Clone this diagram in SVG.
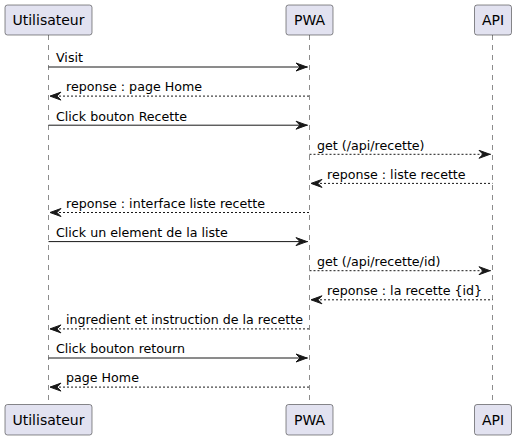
<svg xmlns="http://www.w3.org/2000/svg" width="516" height="440" viewBox="0 0 516 440">
<style>
.box{fill:#E2E2F0;stroke:#181818;stroke-width:0.5}
.pt{font-family:"DejaVu Sans",sans-serif;font-size:14px;fill:#000}
.life{stroke:#181818;stroke-width:0.5;stroke-dasharray:5,5}
.msg{stroke:#181818;stroke-width:1;fill:none}
.dash{stroke-dasharray:2,2}
.ah{fill:#181818;stroke:#181818;stroke-width:1}
.mt{font-family:"DejaVu Sans",sans-serif;font-size:12.65px;fill:#000}
</style>
<g id="lifelines">
<line class="life" x1="48.5" y1="35" x2="48.5" y2="404"/>
<line class="life" x1="309.5" y1="35" x2="309.5" y2="404"/>
<line class="life" x1="492.5" y1="35" x2="492.5" y2="404"/>
</g>
<g id="Utilisateur">
<rect class="box" x="5" y="5" width="87" height="30" rx="2.5"/>
<text class="pt" x="48.5" y="25" text-anchor="middle">Utilisateur</text>
<rect class="box" x="5" y="404.5" width="87" height="30.5" rx="2.5"/>
<text class="pt" x="48.5" y="424.5" text-anchor="middle">Utilisateur</text>
</g>
<g id="PWA">
<rect class="box" x="286" y="5" width="47" height="30" rx="2.5"/>
<text class="pt" x="309.5" y="25" text-anchor="middle">PWA</text>
<rect class="box" x="286" y="404.5" width="47" height="30.5" rx="2.5"/>
<text class="pt" x="309.5" y="424.5" text-anchor="middle">PWA</text>
</g>
<g id="API">
<rect class="box" x="474.5" y="5" width="37" height="30" rx="2.5"/>
<text class="pt" x="493" y="25" text-anchor="middle">API</text>
<rect class="box" x="474.5" y="404.5" width="37" height="30.5" rx="2.5"/>
<text class="pt" x="493" y="424.5" text-anchor="middle">API</text>
</g>
<g id="connectors">
<line class="msg" x1="48.5" y1="67" x2="308" y2="67"/>
<polygon class="ah" points="296,63 307,67 296,71 300,67"/>
<text class="mt" x="56" y="62.3">Visit</text>

<line class="msg dash" x1="51" y1="96.1" x2="309.5" y2="96.1"/>
<polygon class="ah" points="61,92.1 50,96.1 61,100.1 57,96.1"/>
<text class="mt" x="66" y="91.4">reponse : page Home</text>

<line class="msg" x1="48.5" y1="125.2" x2="308" y2="125.2"/>
<polygon class="ah" points="296,121.2 307,125.2 296,129.2 300,125.2"/>
<text class="mt" x="56" y="120.5">Click bouton Recette</text>

<line class="msg dash" x1="309.5" y1="154.3" x2="491" y2="154.3"/>
<polygon class="ah" points="479,150.3 490,154.3 479,158.3 483,154.3"/>
<text class="mt" x="317" y="149.6">get (/api/recette)</text>

<line class="msg dash" x1="312" y1="183.4" x2="492.5" y2="183.4"/>
<polygon class="ah" points="322,179.4 311,183.4 322,187.4 318,183.4"/>
<text class="mt" x="327" y="178.7">reponse : liste recette</text>

<line class="msg dash" x1="51" y1="212.5" x2="309.5" y2="212.5"/>
<polygon class="ah" points="61,208.5 50,212.5 61,216.5 57,212.5"/>
<text class="mt" x="66" y="207.8">reponse : interface liste recette</text>

<line class="msg" x1="48.5" y1="241.6" x2="308" y2="241.6"/>
<polygon class="ah" points="296,237.6 307,241.6 296,245.6 300,241.6"/>
<text class="mt" x="56" y="236.9">Click un element de la liste</text>

<line class="msg dash" x1="309.5" y1="270.7" x2="491" y2="270.7"/>
<polygon class="ah" points="479,266.7 490,270.7 479,274.7 483,270.7"/>
<text class="mt" x="317" y="266">get (/api/recette/id)</text>

<line class="msg dash" x1="312" y1="299.8" x2="492.5" y2="299.8"/>
<polygon class="ah" points="322,295.8 311,299.8 322,303.8 318,299.8"/>
<text class="mt" x="327" y="295.1">reponse : la recette {id}</text>

<line class="msg dash" x1="51" y1="328.9" x2="309.5" y2="328.9"/>
<polygon class="ah" points="61,324.9 50,328.9 61,332.9 57,328.9"/>
<text class="mt" x="66" y="324.2">ingredient et instruction de la recette</text>

<line class="msg" x1="48.5" y1="358" x2="308" y2="358"/>
<polygon class="ah" points="296,354 307,358 296,362 300,358"/>
<text class="mt" x="56" y="353.3">Click bouton retourn</text>

<line class="msg dash" x1="51" y1="387.1" x2="309.5" y2="387.1"/>
<polygon class="ah" points="61,383.1 50,387.1 61,391.1 57,387.1"/>
<text class="mt" x="66" y="382.4">page Home</text>
</g>
</svg>
